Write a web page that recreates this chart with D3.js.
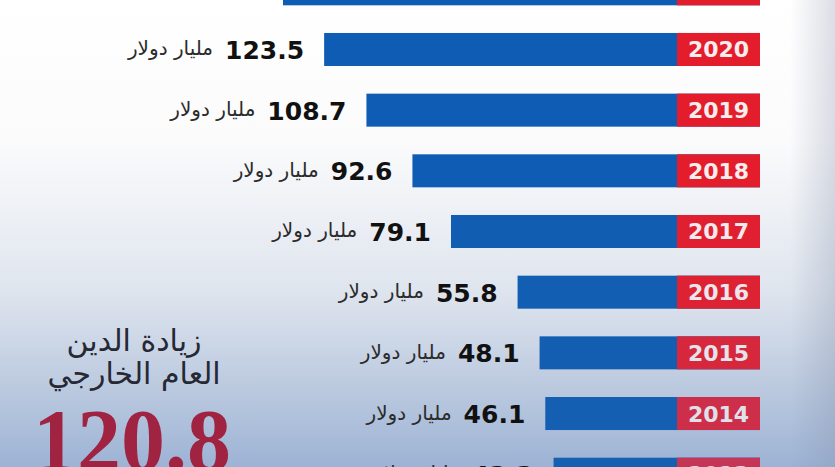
<!DOCTYPE html>
<html>
<head>
<meta charset="utf-8">
<script src="https://cdn.jsdelivr.net/npm/d3@7"></script>
<style>
  html, body { margin: 0; padding: 0; background: #fff; }
  svg { display: block; }
</style>
</head>
<body>
<div id="chart"></div>
<script>
var WIDTH = 835;
var HEIGHT = 467;

// data (billions of dollars, external public debt)
const years = ["2021", "2020", "2019", "2018", "2017", "2016", "2015", "2014", "2013"];
const debtValues = [137.9, 123.5, 108.7, 92.6, 79.1, 55.8, 48.1, 46.1, 43.2];
const unitLabel = "مليار دولار";
const headlineLines = ["زيادة الدين", "العام الخارجي"];
const headlineValue = "120.8";

const rows = years.map((y, i) => ({ year: y, value: debtValues[i] }));

const svg = d3.select("#chart")
	.append("svg")
	.attr("width", WIDTH)
	.attr("height", HEIGHT);

const defs = svg.append("defs");

// background: white at top fading to a grey-blue at the bottom
const bg = defs.append("linearGradient")
	.attr("id", "bg-grad")
	.attr("x1", 0).attr("y1", 0).attr("x2", 0).attr("y2", 1);
bg.append("stop").attr("offset", "0%").attr("stop-color", "#ffffff");
bg.append("stop").attr("offset", "30%").attr("stop-color", "#fbfbfc");
bg.append("stop").attr("offset", "62%").attr("stop-color", "#dfe5ee");
bg.append("stop").attr("offset", "82%").attr("stop-color", "#bdcbe0");
bg.append("stop").attr("offset", "100%").attr("stop-color", "#9db3d5");

// shading on the right edge
const edge = defs.append("linearGradient")
	.attr("id", "edge-grad")
	.attr("x1", 0).attr("y1", 0).attr("x2", 1).attr("y2", 0);
edge.append("stop").attr("offset", "0%").attr("stop-color", "#7d8aa3").attr("stop-opacity", 0);
edge.append("stop").attr("offset", "100%").attr("stop-color", "#7d8aa3").attr("stop-opacity", 0.28);

svg.append("rect")
	.attr("width", WIDTH).attr("height", HEIGHT)
	.attr("fill", "url(#bg-grad)");

// scales
const barRight = 760;
const boxWidth = 83;
const x = d3.scaleLinear().domain([0, 140]).range([barRight - boxWidth, barRight - boxWidth - 400]);
const y = d3.scaleBand()
	.domain(years)
	.range([-27.7, 490.7])
	.paddingInner(0.456)
	.paddingOuter(0);

// the picture gets a blue cast towards the bottom
const redShade = d3.scaleLinear().domain([150, 300, 420, 480])
	.range(["#e31d2b", "#dc2336", "#c9304d", "#bf3a5c"]).clamp(true);
const yearShade = d3.scaleLinear().domain([150, 480])
	.range(["#f7eded", "#d8dbe8"]).clamp(true);
const blueShade = d3.scaleLinear().domain([150, 480])
	.range(["#0e5cb3", "#1660b0"]).clamp(true);

const g = svg.append("g");

const row = g.selectAll(".row")
	.data(rows)
	.join("g")
	.attr("class", "row")
	.attr("transform", d => `translate(0,${y(d.year)})`);

const bh = y.bandwidth();

row.append("rect")
	.attr("x", d => x(d.value))
	.attr("y", 0)
	.attr("width", d => barRight - x(d.value))
	.attr("height", bh)
	.attr("fill", d => blueShade(y(d.year)));

row.append("rect")
	.attr("x", barRight - boxWidth)
	.attr("y", 0)
	.attr("width", boxWidth)
	.attr("height", bh)
	.attr("fill", d => redShade(y(d.year)));

row.append("text")
	.attr("x", barRight - boxWidth / 2)
	.attr("y", bh / 2 + 8)
	.attr("text-anchor", "middle")
	.style("font-family", "DejaVu Sans")
	.style("font-weight", "bold")
	.style("font-size", "22px")
	.style("fill", d => yearShade(y(d.year)))
	.text(d => d.year);

const nums = row.append("text")
	.attr("class", "num")
	.attr("x", d => x(d.value) - 20)
	.attr("y", bh / 2 + 9.5)
	.attr("text-anchor", "end")
	.style("font-family", "DejaVu Sans")
	.style("font-weight", "bold")
	.style("font-size", "25px")
	.style("fill", "#111")
	.text(d => d.value.toFixed(1));

nums.each(function (d) {
	const w = this.getComputedTextLength();
	d3.select(this.parentNode).append("text")
		.attr("x", x(d.value) - 20 - w - 12)
		.attr("y", bh / 2 + 6)
		.attr("text-anchor", "end")
		.style("font-family", "DejaVu Sans")
		.style("font-size", "20px")
		.style("fill", "#2b2b2b")
		.text(unitLabel);
});

// headline on the left
const head = g.append("g");
head.selectAll(".hl")
	.data(headlineLines)
	.join("text")
	.attr("class", "hl")
	.attr("x", 134)
	.attr("y", (d, i) => 351 + i * 33)
	.attr("text-anchor", "middle")
	.style("font-family", "DejaVu Sans")
	.style("font-size", "30px")
	.style("fill", "#262833")
	.text(d => d);

head.append("text")
	.attr("x", 132)
	.attr("y", 470)
	.attr("text-anchor", "middle")
	.style("font-family", "Liberation Serif")
	.style("font-weight", "bold")
	.style("font-size", "88px")
	.style("fill", "#a02342")
	.text(headlineValue);

svg.append("rect")
	.attr("x", 790).attr("width", WIDTH - 790).attr("height", HEIGHT)
	.attr("fill", "url(#edge-grad)");
</script>
</body>
</html>
